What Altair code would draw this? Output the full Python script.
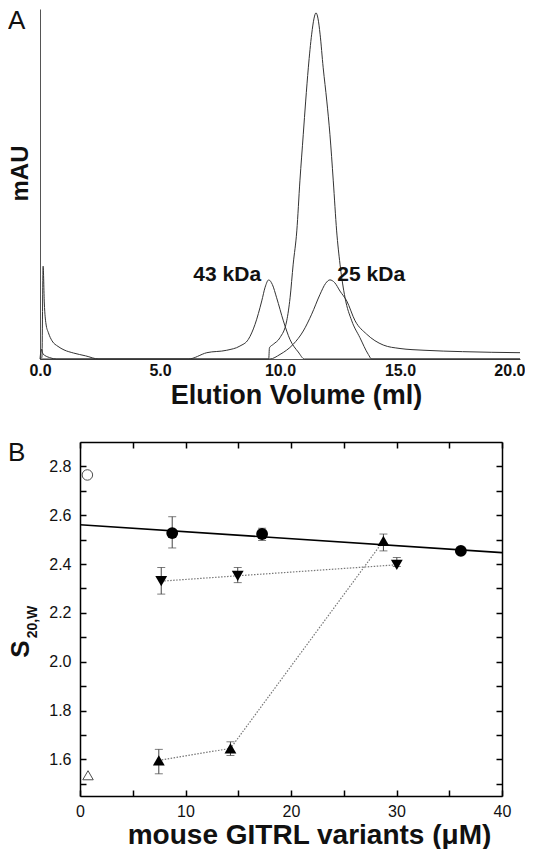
import altair as alt
import pandas as pd

# ---------------- Panel A: elution profiles ----------------
sample_x = [0.0, 0.08, 0.13, 0.18, 0.25, 0.35, 0.5, 0.75, 1.0, 1.4, 1.9, 2.45,
            9.53, 9.56, 9.72, 10.0, 10.28, 10.42, 10.55, 10.7, 10.83, 10.97, 11.07,
            11.18, 11.32, 11.42, 11.5, 11.58, 11.67, 11.8, 11.95, 12.08, 12.22, 12.36,
            12.5, 12.71, 12.99, 13.33, 13.68, 13.82, 20.0]
sample_y = [0.0, 0.5, 26.5, 16.0, 10.0, 7.5, 5.2, 3.6, 2.6, 1.7, 0.9, 0.0,
            0.0, 3.2, 4.2, 6.1, 10.9, 17.5, 27.1, 36.6, 50.9, 64.2, 73.7,
            83.2, 92.8, 97.4, 98.9, 97.4, 92.8, 83.2, 73.7, 64.2, 50.9, 36.6,
            27.1, 17.5, 10.9, 6.1, 1.3, 0.0, 0.0]

std43_x = [0.0, 6.18, 6.95, 7.78, 8.33, 8.68, 8.96, 9.24, 9.38, 9.53, 9.68, 9.86,
           10.14, 10.42, 10.76, 11.02, 20.0]
std43_y = [0.0, 0.0, 1.8, 2.5, 3.7, 5.6, 9.9, 16.6, 20.5, 22.6, 21.3, 17.5,
           10.9, 5.5, 2.0, 0.0, 0.0]

std25_x = [0.0, 0.06, 0.12, 0.4, 0.7, 9.58, 10.0, 10.55, 10.97, 11.32, 11.67, 11.9,
           12.08, 12.28, 12.5, 12.78, 13.13, 13.61, 14.3, 15.0, 16.0, 17.6, 20.0]
std25_y = [0.0, 2.8, 1.5, 0.4, 0.0, 0.0, 1.3, 4.2, 8.0, 12.8, 18.5, 21.6,
           22.6, 21.8, 19.4, 16.6, 10.9, 7.1, 4.0, 3.0, 2.5, 2.1, 1.8]

elution_ticks = [0, 5, 10, 15]
elution_last_tick = [20]
peak_labels = ["43 kDa", "25 kDa"]
peak_label_x = [7.8, 13.8]
peak_label_y = [24.0, 24.0]

# ---------------- Panel B: sedimentation coefficients ----------------
wt_x = [8.74, 17.26, 36.1]
wt_y = [2.527, 2.523, 2.454]
wt_lo = [2.466, 2.497, 2.447]
wt_hi = [2.594, 2.547, 2.461]

dn_x = [7.7, 14.95, 30.03]
dn_y = [2.33, 2.352, 2.397]
dn_lo = [2.277, 2.324, 2.39]
dn_hi = [2.386, 2.386, 2.427]

up_x = [7.47, 14.26, 28.76]
up_y = [1.596, 1.645, 2.495]
up_lo = [1.541, 1.616, 2.454]
up_hi = [1.641, 1.672, 2.523]

open_x = [0.7, 0.76]
open_y = [2.765, 1.535]
open_shape = ["circle", "triangle-up"]

fit_x = [0.0, 40.0]
fit_y = [2.561, 2.447]

conc_ticks = [0, 10, 20, 30, 40]
conc_minor = [0, 5, 10, 15, 20, 25, 30, 35, 40]
s_ticks = [1.6, 1.8, 2.0, 2.2, 2.4, 2.6, 2.8]
s_minor = [1.5, 1.6, 1.7, 1.8, 1.9, 2.0, 2.1, 2.2, 2.3, 2.4, 2.5, 2.6, 2.7, 2.8]

FONT = "Liberation Sans"

# ---------------- geometry (one canvas, two panels) ----------------
W, H = 517, 787
A_LEFT, A_RIGHT, A_TOP, A_BOTTOM = 32, 512, 0, 350
B_LEFT, B_RIGHT, B_TOP, B_BOTTOM = 72, 494, 433, 787

xsA = alt.Scale(domain=[0, 20], range=[A_LEFT, A_RIGHT], nice=False, zero=False)
ysA = alt.Scale(domain=[0, 100], range=[A_BOTTOM, A_TOP], nice=False, zero=False)
xsB = alt.Scale(domain=[0, 40], range=[B_LEFT, B_RIGHT], nice=False, zero=False)
ysB = alt.Scale(domain=[1.45, 2.9], range=[B_BOTTOM, B_TOP], nice=False, zero=False)

# ---------- panel A layers ----------
curves = pd.DataFrame({
    "v": sample_x + std43_x + std25_x,
    "a": sample_y + std43_y + std25_y,
    "curve": ["sample"] * len(sample_x) + ["43"] * len(std43_x) + ["25"] * len(std25_x),
    "i": list(range(len(sample_x))) + list(range(len(std43_x))) + list(range(len(std25_x))),
})

axA_x = alt.Axis(orient="bottom", offset=A_BOTTOM - H, values=elution_ticks, format=".1f",
                 labelFontWeight="bold", labelFontSize=16, labelColor="#111", ticks=False,
                 labelPadding=3, domainColor="#555", domainWidth=1, grid=False,
                 labelFlush=False, title="Elution Volume (ml)", titleFontSize=27,
                 titleFontWeight="bold", titleColor="#111", titlePadding=4, titleX=288)
axA_y = alt.Axis(orient="left", offset=-A_LEFT, labels=False, ticks=False, grid=False,
                 domainColor="#555", domainWidth=1, title="mAU", titleFontSize=24,
                 titleFontWeight="bold", titleColor="#111", titlePadding=8, titleY=164)

linesA = alt.Chart(curves).mark_line(color="#333", strokeWidth=1, interpolate="monotone").encode(
    x=alt.X("v:Q", scale=xsA, axis=axA_x),
    y=alt.Y("a:Q", scale=ysA, axis=axA_y),
    detail="curve:N", order="i:Q")

axA_x_last = alt.Axis(orient="bottom", offset=A_BOTTOM - H, values=elution_last_tick,
                      format=".1f", labelFontWeight="bold", labelFontSize=16,
                      labelColor="#111", ticks=False, labelPadding=3, domain=False,
                      grid=False, labelFlush=True, labelFlushOffset=5, title=None)
peaks = pd.DataFrame({"v": peak_label_x, "a": peak_label_y, "t": peak_labels})
peakText = alt.Chart(peaks).mark_text(font=FONT, fontSize=21, fontWeight="bold", color="#111",
                                      baseline="middle", align="center").encode(
    x=alt.X("v:Q", scale=xsA, axis=axA_x_last),
    y=alt.Y("a:Q", scale=ysA, axis=None),
    text="t:N")

letterA = alt.Chart(pd.DataFrame({"t": ["A"]})).mark_text(
    font=FONT, fontSize=26, align="left", baseline="alphabetic", color="#111").encode(
    x=alt.value(0), y=alt.value(20), text="t:N")

# ---------- panel B layers ----------
def tick_axis(orient, offset, values, domain):
    return alt.Axis(orient=orient, offset=offset, values=values, labels=False,
                    domain=domain, domainColor="black", domainWidth=1.5,
                    grid=False, ticks=True, tickSize=6, tickWidth=1.5, tickColor="black",
                    title=None)


fit_df = pd.DataFrame({"c": fit_x, "s": fit_y})
fit = alt.Chart(fit_df).mark_line(color="black", strokeWidth=1.6).encode(
    x=alt.X("c:Q", scale=xsB, axis=alt.Axis(
        orient="bottom", offset=B_BOTTOM - H, values=conc_ticks, format="d",
        labelFontSize=16, labelColor="#111", labelPadding=7, ticks=False, domain=True,
        domainColor="black", domainWidth=1.5, grid=False, labelFlush=False,
        title="mouse GITRL variants (μM)", titleFontSize=28, titleFontWeight="bold",
        titleColor="#111", titlePadding=2, titleX=301)),
    y=alt.Y("s:Q", scale=ysB, axis=alt.Axis(
        orient="left", offset=-B_LEFT, values=s_ticks, format=".1f", labelFontSize=16,
        labelColor="#111", labelPadding=9, ticks=False, domain=True, domainColor="black",
        domainWidth=1.5, grid=False, labelFlush=False, title=None)))

up_df = pd.DataFrame({"c": up_x, "s": up_y, "lo": up_lo, "hi": up_hi})
dn_df = pd.DataFrame({"c": dn_x, "s": dn_y, "lo": dn_lo, "hi": dn_hi})
wt_df = pd.DataFrame({"c": wt_x, "s": wt_y, "lo": wt_lo, "hi": wt_hi})

# dotted connectors; their axes carry the inward tick marks and the top/right frame
up_line = alt.Chart(up_df).mark_line(color="#777", strokeWidth=1.2, strokeDash=[1.5, 1.5]).encode(
    x=alt.X("c:Q", scale=xsB, axis=tick_axis("top", -B_BOTTOM, conc_minor, False)),
    y=alt.Y("s:Q", scale=ysB, axis=tick_axis("right", B_LEFT - W, s_minor, False)))
dn_line = alt.Chart(dn_df).mark_line(color="#777", strokeWidth=1.2, strokeDash=[1.5, 1.5]).encode(
    x=alt.X("c:Q", scale=xsB, axis=tick_axis("bottom", B_TOP - H, conc_minor, True)),
    y=alt.Y("s:Q", scale=ysB, axis=tick_axis("left", -B_RIGHT, s_minor, True)))

err_df = pd.concat([wt_df, dn_df, up_df], ignore_index=True)
err_rule = alt.Chart(err_df).mark_rule(color="#444", strokeWidth=1).encode(
    x=alt.X("c:Q", scale=xsB, axis=None),
    y=alt.Y("lo:Q", scale=ysB, axis=None), y2="hi:Q")
cap_hi = alt.Chart(err_df).mark_tick(color="#444", orient="horizontal", size=8, thickness=1).encode(
    x=alt.X("c:Q", scale=xsB, axis=None), y=alt.Y("hi:Q", scale=ysB, axis=None))
cap_lo = alt.Chart(err_df).mark_tick(color="#444", orient="horizontal", size=8, thickness=1).encode(
    x=alt.X("c:Q", scale=xsB, axis=None), y=alt.Y("lo:Q", scale=ysB, axis=None))

filled_df = pd.DataFrame({
    "c": wt_x + dn_x + up_x,
    "s": wt_y + dn_y + up_y,
    "shape": ["circle"] * len(wt_x) + ["triangle-down"] * len(dn_x) + ["triangle-up"] * len(up_x),
})
filled = alt.Chart(filled_df).mark_point(filled=True, color="black", opacity=1, size=140).encode(
    x=alt.X("c:Q", scale=xsB, axis=None), y=alt.Y("s:Q", scale=ysB, axis=None),
    shape=alt.Shape("shape:N", scale=None))

open_df = pd.DataFrame({"c": open_x, "s": open_y, "shape": open_shape})
opened = alt.Chart(open_df).mark_point(filled=False, color="black", strokeWidth=1, size=110).encode(
    x=alt.X("c:Q", scale=xsB, axis=None), y=alt.Y("s:Q", scale=ysB, axis=None),
    shape=alt.Shape("shape:N", scale=None))

letterB = alt.Chart(pd.DataFrame({"t": ["B"]})).mark_text(
    font=FONT, fontSize=26, align="left", baseline="alphabetic", color="#111").encode(
    x=alt.value(0), y=alt.value(B_TOP + 19), text="t:N")
ytitleS = alt.Chart(pd.DataFrame({"t": ["S"]})).mark_text(
    font=FONT, fontSize=26, fontWeight="bold", angle=270, align="center", baseline="middle",
    color="#111").encode(x=alt.value(B_LEFT - 59), y=alt.value(B_TOP + 207), text="t:N")
ytitleSub = alt.Chart(pd.DataFrame({"t": ["20,W"]})).mark_text(
    font=FONT, fontSize=14, fontWeight="bold", angle=270, align="center", baseline="middle",
    color="#111").encode(x=alt.value(B_LEFT - 47), y=alt.value(B_TOP + 180), text="t:N")

chart = alt.layer(
    linesA, peakText, letterA,
    fit, up_line, dn_line, err_rule, cap_hi, cap_lo, filled, opened,
    letterB, ytitleS, ytitleSub,
).resolve_scale(x="independent", y="independent").resolve_axis(
    x="independent", y="independent").properties(
    width=W, height=H, padding=0,
    view=alt.ViewBackground(stroke="transparent", strokeWidth=0, fill="white")).configure_view(
    stroke="transparent", strokeWidth=0).configure(font=FONT)

chart.save("out.html", embed_options={"renderer": "svg", "actions": False})
